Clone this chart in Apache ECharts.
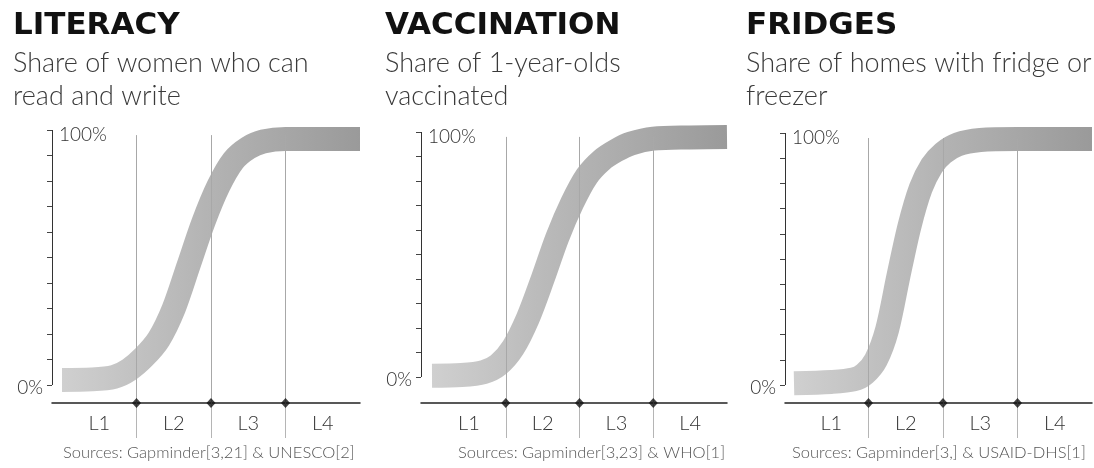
<!DOCTYPE html>
<html>
<head>
<meta charset="utf-8">
<script src="https://cdn.jsdelivr.net/npm/echarts@6/dist/echarts.min.js"></script>
<style>
  html, body { margin: 0; padding: 0; background: #fff; }
  #chart { width: 1094px; height: 468px; }
</style>
</head>
<body>
<div id="chart"></div>
<script>
// Panel texts
const titles = ['LITERACY', 'VACCINATION', 'FRIDGES'];
const subtitles = [
  'Share of women who can\nread and write',
  'Share of 1-year-olds\nvaccinated',
  'Share of homes with fridge or\nfreezer'
];
const sources = [
  'Sources: Gapminder[3,21] & UNESCO[2]',
  'Sources: Gapminder[3,23] & WHO[1]',
  'Sources: Gapminder[3,] & USAID-DHS[1]'
];

// Income levels on the x axis (level k spans k-1 .. k)
const levels = ['L1', 'L2', 'L3', 'L4'];
const levelBounds = [1, 2, 3];
const levelCenters = [0.5, 1.5, 2.5, 3.5];
const yTicks = [0, 10, 20, 30, 40, 50, 60, 70, 80, 90, 100];

// Curves: position along income levels -> share (%)
const literacyX = [0, 0.4, 0.7, 0.9, 1.1, 1.3, 1.5, 1.7, 1.9, 2.1, 2.3, 2.5, 2.7, 3.0, 4.0];
const literacyY = [2, 2.2, 3.2, 6, 11, 18, 30, 47, 64, 78, 88, 93, 95.5, 96.5, 96.5];

const vaccinationX = [0, 0.4, 0.7, 0.9, 1.1, 1.3, 1.5, 1.7, 1.9, 2.1, 2.3, 2.5, 2.7, 3.0, 3.5, 4.0];
const vaccinationY = [0.5, 0.8, 2, 5, 12, 24, 40, 57, 71, 82, 88.5, 92.5, 95.3, 97.3, 97.8, 98];

const fridgesX = [0, 0.5, 0.8, 0.95, 1.1, 1.25, 1.4, 1.55, 1.7, 1.85, 2.0, 2.2, 2.5, 3.0, 4.0];
const fridgesY = [0.7, 1.2, 2.2, 4.5, 10, 22, 43, 63, 78, 87, 92, 95.5, 97.2, 97.6, 97.6];

const curvesX = [literacyX, vaccinationX, fridgesX];
const curvesY = [literacyY, vaccinationY, fridgesY];

// Pixel layout of each panel: y-axis position, curve start, right end, 100% and 0% rows
const AXIS_Y = 403;
const layouts = [
  { axisX: 52,  startX: 62,  endX: 360,  top: 130, zero: 385, titleX: 13,  sourceX: 63 },
  { axisX: 421, startX: 432, endX: 727,  top: 132, zero: 377, titleX: 385, sourceX: 458 },
  { axisX: 785, startX: 794, endX: 1092, top: 133, zero: 385, titleX: 746, sourceX: 792 }
];

const LIGHT_FONT = "'Lato', 'Open Sans', 'DejaVu Sans', sans-serif";
const BOLD_FONT = "'DejaVu Sans', 'Lato', sans-serif";

const pctLabel = (shift) => ({
  formatter: v => '{p|' + v + '%}',
  rich: { p: { fontFamily: LIGHT_FONT, fontWeight: 300, fontSize: 19, color: '#333',
               padding: [shift, 0, 0, 0] } }
});

const grids = [], xAxes = [], yAxes = [], series = [], titleList = [];

layouts.forEach((L, i) => {
  const unit = (L.endX - L.startX) / 4;
  const xMin = -(L.startX - L.axisX) / unit;
  const yMin = -100 * (AXIS_Y - L.zero) / (L.zero - L.top);

  grids.push({
    left: L.axisX, top: L.top,
    width: L.endX - L.axisX, height: AXIS_Y - L.top,
    containLabel: false, outerBoundsMode: 'none'
  });

  xAxes.push({
    type: 'value', gridIndex: i, min: xMin, max: 4,
    axisLine: { show: true, onZero: false, lineStyle: { color: '#222', width: 1.5 } },
    axisTick: { show: true, customValues: levelBounds, length: 35,
                lineStyle: { color: '#b5b5b5', width: 1 } },
    axisLabel: {
      show: true, customValues: levelCenters, margin: 11,
      formatter: v => levels[Math.floor(v)],
      fontFamily: LIGHT_FONT, fontWeight: 300, fontSize: 20, color: '#333'
    },
    splitLine: { show: false }
  });

  // main y axis: ticks and the 0% label (its visible spine is drawn by the markLine below)
  yAxes.push({
    type: 'value', gridIndex: i, min: yMin, max: 100,
    axisLine: { show: true, onZero: false, lineStyle: { color: 'rgba(0,0,0,0)' } },
    axisTick: { show: true, customValues: yTicks, length: 5,
                lineStyle: { color: '#444', width: 1 } },
    axisLabel: Object.assign({ show: true, customValues: [0], margin: 9 }, pctLabel(6)),
    splitLine: { show: false }
  });
  // companion y axis carrying the 100% label inside the plot
  yAxes.push({
    type: 'value', gridIndex: i, min: yMin, max: 100, position: 'left',
    axisLine: { show: false, onZero: false }, axisTick: { show: false },
    axisLabel: Object.assign({ show: true, inside: true, customValues: [100], margin: 7 }, pctLabel(10)),
    splitLine: { show: false }
  });

  const data = curvesX[i].map((x, k) => [x, curvesY[i][k]]);

  series.push({
    type: 'line', xAxisIndex: i, yAxisIndex: i * 2,
    data: data, smooth: 0.3,
    symbol: 'none', clip: false,
    lineStyle: {
      width: 24, cap: 'butt', join: 'round',
      color: { type: 'linear', x: 0, y: 0, x2: 1, y2: 0,
               colorStops: [{ offset: 0, color: '#d2d2d2' },
                            { offset: 0.5, color: '#b3b3b3' },
                            { offset: 1, color: '#989898' }] }
    },
    markLine: {
      silent: true, symbol: 'none', animation: false,
      label: { show: false },
      data: [
        [{ coord: [xMin, 0], lineStyle: { color: '#333', width: 1, type: 'solid' } },
         { coord: [xMin, 100] }]
      ].concat(levelBounds.map(b => [
        { coord: [b, yMin], lineStyle: { color: '#a8a8a8', width: 1, type: 'solid' } },
        { coord: [b, 98] }
      ]))
    }
  });

  series.push({
    type: 'scatter', xAxisIndex: i, yAxisIndex: i * 2, clip: false, z: 6,
    symbol: 'diamond', symbolSize: [9, 10],
    itemStyle: { color: '#111' },
    data: levelBounds.map(b => [b, yMin])
  });

  titleList.push({
    text: titles[i], subtext: subtitles[i],
    left: L.titleX, top: 10, itemGap: 6, padding: 0,
    textStyle: { fontFamily: BOLD_FONT, fontWeight: 'bold', fontSize: 31, color: '#111' },
    subtextStyle: { fontFamily: LIGHT_FONT, fontWeight: 300, fontSize: 27, lineHeight: 33, color: '#3a3a3a' }
  });
  titleList.push({
    text: sources[i], left: L.sourceX, top: 444, padding: 0,
    textStyle: { fontFamily: LIGHT_FONT, fontWeight: 300, fontSize: 16.5, color: '#555' }
  });
});

const chart = echarts.init(document.getElementById('chart'));
chart.setOption({
  animation: false,
  backgroundColor: '#fff',
  title: titleList,
  grid: grids,
  xAxis: xAxes,
  yAxis: yAxes,
  series: series
});
</script>
</body>
</html>
